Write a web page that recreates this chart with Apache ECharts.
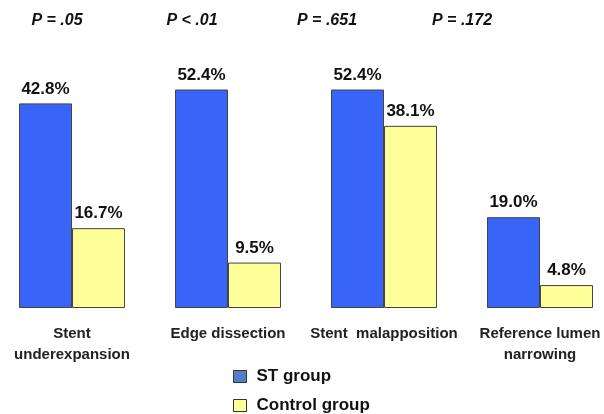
<!DOCTYPE html>
<html><head><meta charset="utf-8">
<script src="https://cdn.jsdelivr.net/npm/echarts@6/dist/echarts.min.js"></script>
<style>html,body{margin:0;padding:0;background:#fff;overflow:hidden;width:604px;height:414px}#c{position:absolute;left:-6px;top:0;width:624px;height:414px}</style>
</head><body><div id="c"></div>
<script>
var categories = ['Stent\nunderexpansion', 'Edge dissection', 'Stent  malapposition', 'Reference lumen\nnarrowing'];
var seriesNames = ['ST group', 'Control group'];
var stGroup = [42.8, 52.4, 52.4, 19.0];
var controlGroup = [16.7, 9.5, 38.1, 4.8];
var pValues = ['P = .05', 'P < .01', 'P = .651', 'P = .172'];
var pX = [57, 192, 327, 462];

var OFF = 6;
var FONT = '"Liberation Sans", Arial, sans-serif';
var chart = echarts.init(document.getElementById('c'), null, {renderer: 'canvas'});
var labelCfg = {show: true, position: 'top', distance: 6, fontFamily: FONT, fontWeight: 'bold', fontSize: 17, color: '#111', formatter: function (p) { return p.value.toFixed(1) + '%'; }};
var legendColors = ['#4f7fc4', '#ffff99'];
var legendTops = [368, 397];
chart.setOption({
  backgroundColor: '#fff',
  animation: false,
  grid: {left: 0, right: 0, top: 90, bottom: 106},
  xAxis: {
    type: 'category', data: categories,
    axisLine: {show: false}, axisTick: {show: false},
    axisLabel: {interval: 0, margin: 15, fontFamily: FONT, fontWeight: 'bold', fontSize: 15, color: '#222', lineHeight: 21}
  },
  yAxis: {type: 'value', min: 0, max: 45.6, show: false, splitLine: {show: false}},
  legend: seriesNames.map(function (n, i) {
    return {
      orient: 'vertical', left: 233 + OFF, top: legendTops[i], padding: 0, itemWidth: 13, itemHeight: 12,
      icon: 'rect', selectedMode: false,
      textStyle: {fontFamily: FONT, fontWeight: 'bold', fontSize: 17, color: '#111', padding: [0, 0, 0, 5]},
      data: [{name: n, itemStyle: {color: legendColors[i], borderColor: '#333', borderWidth: 1}}]
    };
  }),
  graphic: pValues.map(function (t, i) {
    return {type: 'text', x: pX[i] + OFF, y: 21, style: {text: t, font: 'italic bold 16px ' + FONT, fill: '#111', textAlign: 'center', textVerticalAlign: 'middle'}};
  }),
  series: [
    {name: seriesNames[0], type: 'bar', data: stGroup, barWidth: 53, barGap: '0%', clip: true,
      itemStyle: {color: '#3864f8', borderColor: '#444', borderWidth: 1}, label: labelCfg},
    {name: seriesNames[1], type: 'bar', data: controlGroup, barWidth: 53, barGap: '0%', clip: true,
      itemStyle: {color: '#ffff99', borderColor: '#444', borderWidth: 1}, label: labelCfg}
  ]
});
</script></body></html>
